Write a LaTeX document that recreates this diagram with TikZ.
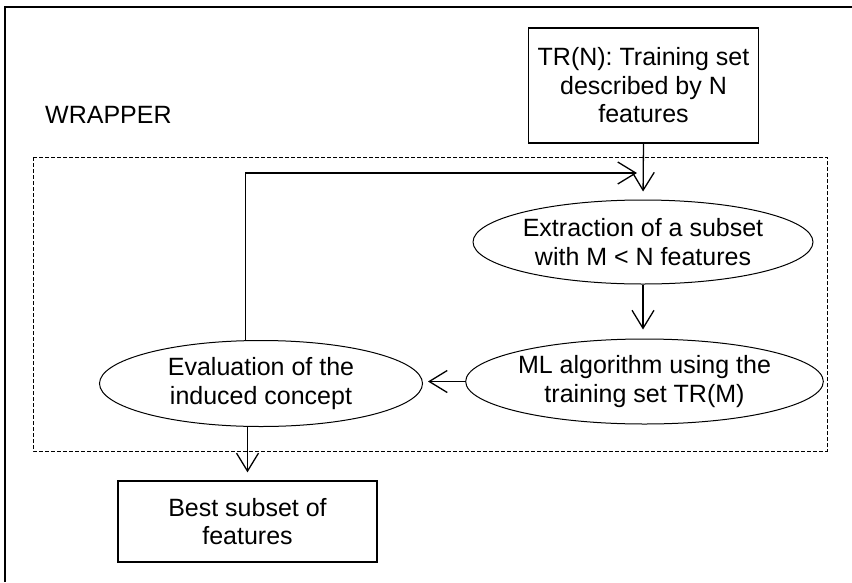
\documentclass[tikz,border=0pt]{standalone}
\usepackage{fontspec}
\setmainfont{Liberation Sans}
\usetikzlibrary{shapes.geometric,arrows.meta}
\tikzset{
  txt/.style={font=\fontsize{25}{28.5}\selectfont, align=center, inner sep=0pt},
  boxnode/.style={txt, draw, line width=1.3pt},
  ellnode/.style={txt, draw, ellipse, line width=1pt},
  arr/.style={line width=1.3pt, -{Straight Barb[length=18pt,width=22pt,line width=1.3pt]}},
  wrapbox/.style={draw, line width=0.9pt, dash pattern=on 4pt off 2pt},
}
\begin{document}
\begin{tikzpicture}[x=1pt,y=-1pt]
\useasboundingbox (0,0) rectangle (852,582);
% outer frame (left and top edges visible)
\draw[line width=2.2pt] (5,582) -- (5,7) -- (852,7);
% wrapper
\draw[wrapbox] (33,157) rectangle (827,451);
\node[txt, anchor=base west] (wraplbl) at (45,123) {WRAPPER};
% nodes
\node[boxnode, minimum width=230pt, minimum height=115pt] (trn) at (643.5,85.5)
  {TR(N): Training set\\described by N\\features};
\node[ellnode, minimum width=322pt, minimum height=84pt] (ext) at (643,242)
  {Extraction of a subset\\with M < N features};
\node[ellnode, minimum width=323pt, minimum height=85pt] (ml) at (644.5,381.5)
  {ML algorithm using the\\training set TR(M)};
\node[ellnode, minimum width=323pt, minimum height=86pt] (eval) at (261,383.5)
  {Evaluation of the\\induced concept};
\node[boxnode, minimum width=259pt, minimum height=81pt] (best) at (247.5,521.5)
  {Best subset of\\features};
% helper coordinates
\coordinate (fbc) at (245,173);
\coordinate (fbend) at (637,173);
% connectors
\draw[arr, shorten >=8pt] (trn.south) -- (ext.north);
\draw[line width=1pt] (eval.north -| fbc) -- (fbc);
\draw[arr] (fbc) -- (fbend);
\draw[arr, shorten >=9pt] (ext.south) -- (ext.south |- ml.north);
\draw[arr, shorten >=5pt] (ml.west) -- (ml.west -| eval.east);
\draw[arr, shorten >=8pt] (eval.south -| best.north) -- (best.north);
\end{tikzpicture}
\end{document}
